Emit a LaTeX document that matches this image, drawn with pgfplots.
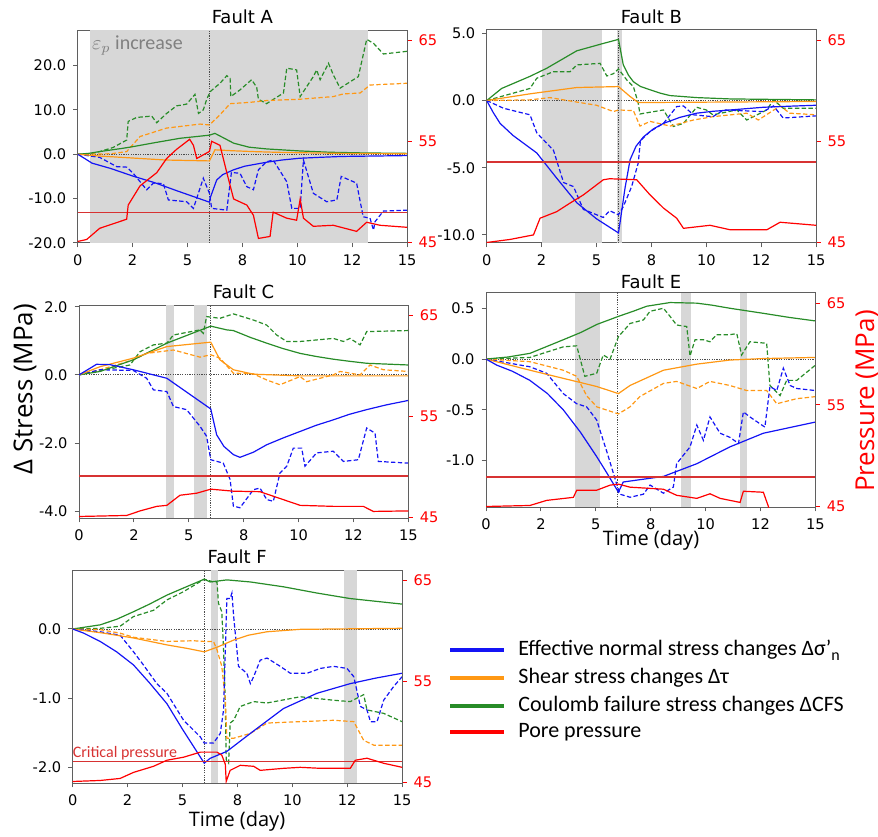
\documentclass[border=0pt]{standalone}
\usepackage{fontspec}
\setmainfont{DejaVu Sans}
\newfontfamily\carlito{Carlito}
\newfontfamily\opensans{Open Sans}
\usepackage{pgfplots}
\pgfplotsset{compat=1.18}

\definecolor{cblue}{RGB}{20,20,245}
\definecolor{corange}{RGB}{255,152,20}
\definecolor{cgreen}{RGB}{40,140,40}
\definecolor{cred}{RGB}{255,0,0}
\definecolor{crit}{RGB}{215,50,50}
\definecolor{spancol}{RGB}{215,215,215}
\definecolor{spine}{RGB}{95,95,95}

\pgfplotsset{
  panel/.style={scale only axis, width=164.7pt, height=106.5pt, anchor=south west, xmin=0, xmax=15},
  leftax/.style={panel,
    xtick={0,2.5,5,7.5,10,12.5,15}, xticklabels={0,2,5,8,10,12,15},
    tick align=outside, tick pos=left, major tick length=2.2pt,
    axis line style={spine, line width=0.5pt},
    tick style={spine, line width=0.5pt},
    tick label style={font=\fontsize{7.3}{8}\selectfont}},
  rightax/.style={panel, ymin=44.95, ymax=66,
    axis x line=none, axis y line*=right, ytick={45,55,65}, yticklabels={45,55,65},
    tick align=outside, major tick length=2.2pt,
    axis line style={spine, line width=0.5pt},
    tick style={cred, line width=0.5pt},
    yticklabel style={text=cred, font=\fontsize{7.3}{8}\selectfont}},
  dsh/.style={dash pattern=on 2.2pt off 1.2pt},
  sn/.style={cblue, line width=0.6pt},
  st/.style={corange, line width=0.6pt},
  sc/.style={cgreen, line width=0.6pt},
  pp/.style={cred, line width=0.6pt},
  cp/.style={draw=crit, line width=0.6pt},
}
\newcommand{\vspan}[2]{\fill[spancol] ({axis cs:#1,0}|-{rel axis cs:0,0}) rectangle ({axis cs:#2,0}|-{rel axis cs:0,1});}
\newcommand{\guides}{%
  \draw[black!70, line width=0.4pt, dash pattern=on 0.6pt off 0.6pt] (axis cs:0,0) -- (axis cs:15,0);
  \draw[black!70, line width=0.4pt, dash pattern=on 0.6pt off 0.6pt] ({axis cs:6,0}|-{rel axis cs:0,0}) -- ({axis cs:6,0}|-{rel axis cs:0,1});}

\begin{document}
\begin{tikzpicture}
\useasboundingbox (0,0) rectangle (439pt,418pt);

% ---------------- Fault A ----------------
\begin{axis}[leftax, at={(38.85pt,296.5pt)}, ymin=-20, ymax=28,
  ytick={-20,-10,0,10,20}, yticklabels={-20.0,-10.0,0.0,10.0,20.0}]
\vspan{0.56}{13.21}
\guides
\addplot[sc,dsh] coordinates {(0,0)(0.5,0)(1.0,0.6)(1.6,1.5)(2.23,3.2)(2.3,7.4)(2.69,8.3)(3.37,8.6)(3.6,7.1)(4.05,9.2)(4.5,10.9)(4.96,11.3)(5.34,13.5)(5.5,9.2)(5.72,10.0)(5.87,12.3)(6.03,14.1)(6.48,16.0)(6.79,17.7)(6.94,17.1)(6.97,13.0)(7.39,14.5)(7.92,16.8)(8.15,15.1)(8.23,12.4)(8.6,11.4)(9.37,13.8)(9.52,19.4)(9.97,19.0)(10.13,13.0)(10.73,17.5)(10.88,19.0)(11.04,16.8)(11.42,20.5)(11.64,17.9)(11.95,14.9)(12.78,17.5)(13.16,25.9)(13.47,25.0)(13.92,22.6)(15,23.2)};
\addplot[st,dsh] coordinates {(0,0)(1.5,0.1)(2.23,0.6)(2.84,4.0)(4.05,5.9)(5.57,6.8)(6.0,6.6)(6.48,8.9)(6.94,11.4)(7.85,11.7)(8.6,12.1)(10.13,12.4)(11.64,13.0)(12.1,13.6)(12.86,13.8)(13.31,15.6)(15,16.0)};
\addplot[sn,dsh] coordinates {(0,0)(1.0,-0.7)(1.78,-2.8)(2.23,-2.9)(2.53,-4.3)(3.14,-8.0)(3.45,-6.5)(3.9,-6.6)(4.13,-10.3)(4.96,-10.7)(5.27,-12.2)(5.72,-5.4)(6.0,-8.8)(6.1,-12.2)(6.79,-12.6)(7.0,-4.1)(7.39,-4.3)(7.7,-7.3)(8.0,-8.0)(8.23,-3.5)(8.6,-1.7)(8.9,-1.3)(9.52,-6.2)(9.75,-12.2)(10.13,-12.2)(10.28,-1.3)(10.73,-8.8)(11.34,-10.7)(11.8,-10.3)(12.0,-5.0)(12.7,-6.5)(13.0,-14.1)(13.31,-14.4)(13.47,-17.1)(13.54,-15.2)(13.92,-12.8)(15,-12.6)};
\addplot[sc] coordinates {(0,0)(0.5,0.2)(1,0.6)(2,1.3)(2.5,1.7)(3.5,2.6)(4.66,3.6)(6,4.3)(6.25,4.7)(6.6,3.8)(7.1,2.5)(7.8,1.6)(8.6,1.2)(10.1,0.75)(11.5,0.45)(13,0.3)(15,0.2)};
\addplot[st] coordinates {(0,0)(1,-0.4)(2,-0.7)(3,-1.0)(4,-1.3)(5,-1.4)(6,-1.5)(6.25,1.0)(7,0.8)(8,0.6)(9,0.45)(10,0.35)(12,0.2)(15,0.1)};
\addplot[sn] coordinates {(0,0)(0.3,-0.9)(0.65,-2.0)(1.5,-3.2)(2.5,-4.9)(3.5,-6.4)(4.5,-8.2)(6,-10.8)(6.05,-9.6)(6.33,-5.8)(6.6,-4.6)(7.1,-3.5)(7.6,-2.7)(8.6,-1.8)(9.3,-1.3)(10.1,-0.9)(11,-0.7)(12,-0.5)(13.5,-0.4)(15,-0.3)};
\end{axis}
\begin{axis}[rightax, at={(38.85pt,296.5pt)}]
\addplot[cp] coordinates {(0,48.0)(15,48.0)};
\addplot[pp] coordinates {(0,45.1)(0.41,45.3)(1.0,46.4)(2.23,47.3)(2.3,48.7)(2.84,50.6)(3.6,51.9)(4.05,53.3)(4.5,54.2)(5.1,55.2)(5.27,54.6)(5.42,53.3)(6.0,54.0)(6.1,55.0)(6.48,54.6)(6.79,51.9)(7.1,49.3)(7.7,48.7)(8.0,47.7)(8.23,45.4)(8.76,45.6)(8.9,48.0)(9.52,47.4)(9.97,47.2)(10.13,49.3)(10.28,47.4)(10.73,46.6)(11.64,46.7)(12.7,46.1)(13.16,47.0)(13.77,46.7)(15,46.5)};
\end{axis}

% ---------------- Fault B ----------------
\begin{axis}[leftax, at={(243.35pt,296.5pt)}, ymin=-10.6, ymax=5.25,
  ytick={-10,-5,0,5}, yticklabels={-10.0,-5.0,0.0,5.0}]
\vspan{2.53}{5.24}
\vspan{5.95}{6.17}
\guides
\addplot[sc,dsh] coordinates {(0,0)(1.97,0.9)(2.28,1.66)(3.04,2.15)(3.8,2.15)(4.1,2.65)(5.16,2.77)(5.47,1.83)(5.77,2.0)(6.0,2.35)(6.38,1.53)(6.68,1.04)(6.9,-0.2)(6.98,-1.0)(8.05,-0.7)(8.27,-1.3)(8.5,-1.93)(8.96,-1.7)(9.56,-0.5)(10.0,-0.7)(10.3,-1.06)(11.39,-0.7)(11.84,-1.45)(12.75,-0.7)(13.06,0.05)(13.5,-0.57)(15,-0.57)};
\addplot[st,dsh] coordinates {(0,0)(1.97,0.05)(2.88,0.22)(3.5,0.05)(5.0,-0.35)(5.77,-0.82)(6.0,-0.7)(6.68,-0.75)(6.98,-1.9)(7.44,-1.55)(8.35,-1.9)(9.41,-1.45)(10.3,-1.2)(11.84,-0.94)(12.37,-1.45)(13.36,-0.4)(13.8,-0.94)(15,-1.06)};
\addplot[sn,dsh] coordinates {(0,0)(0.76,-0.57)(1.97,-1.06)(2.28,-2.4)(3.04,-3.7)(3.5,-6.1)(3.95,-6.4)(4.4,-8.1)(5.31,-8.7)(5.6,-8.2)(6.0,-8.5)(6.22,-7.9)(6.6,-6.4)(6.9,-4.65)(7.0,-3.0)(7.44,-2.3)(8.05,-1.7)(8.65,-0.45)(8.96,-0.4)(9.41,-1.06)(10.3,-1.2)(10.78,-0.7)(12.6,-0.82)(13.06,-0.4)(13.5,-1.3)(15,-1.14)};
\addplot[sc] coordinates {(0,0)(0.68,0.9)(1.97,1.8)(2.73,2.4)(4.1,3.7)(5.31,4.25)(6.0,4.55)(6.22,2.65)(6.45,1.9)(6.68,1.4)(7,1.05)(7.44,0.8)(7.9,0.55)(8.35,0.37)(9.56,0.22)(11.1,0.12)(15,0.05)};
\addplot[st] coordinates {(0,0)(1.97,0.5)(4.1,0.97)(6.0,1.04)(6.53,0.3)(6.9,-0.15)(15,-0.07)};
\addplot[sn] coordinates {(0,0)(0.3,-0.9)(0.61,-1.7)(1.2,-2.6)(2.28,-3.9)(3.2,-5.8)(4.1,-7.6)(5,-8.8)(6.0,-9.85)(6.07,-9.1)(6.3,-6.5)(6.53,-4.4)(6.8,-3.4)(7.14,-2.7)(7.6,-2.1)(8.05,-1.7)(8.8,-1.25)(9.56,-0.94)(10.3,-0.8)(11.1,-0.7)(12.6,-0.5)(13.8,-0.42)(15,-0.35)};
\end{axis}
\begin{axis}[rightax, at={(243.35pt,296.5pt)}]
\addplot[cp] coordinates {(0,52.95)(15,52.95)};
\addplot[pp] coordinates {(0,45.0)(1.06,45.3)(2.13,45.75)(2.43,47.4)(3.19,48.05)(3.8,48.9)(4.4,49.7)(5.31,51.2)(5.6,51.3)(6.83,51.2)(7.44,49.7)(8.05,48.4)(8.65,47.4)(8.96,46.4)(10.17,46.7)(11.1,46.25)(12.75,46.25)(13.36,47.0)(15,46.7)};
\end{axis}

% ---------------- Fault C ----------------
\begin{axis}[leftax, at={(39.5pt,159pt)}, ymin=-4.2, ymax=2.05,
  ytick={-4,-2,0,2}, yticklabels={-4.0,-2.0,0.0,2.0}]
\vspan{3.96}{4.33}
\vspan{5.24}{5.82}
\guides
\addplot[sc,dsh] coordinates {(0,0)(0.96,0.12)(2.32,0.29)(2.78,0.68)(3.39,0.88)(4.0,0.93)(4.3,1.17)(5.51,1.32)(5.66,1.22)(5.81,1.71)(6.42,1.66)(7.03,1.79)(7.94,1.61)(8.55,1.46)(9.0,1.17)(9.46,0.98)(10.07,0.98)(11.58,1.07)(12.04,0.98)(12.34,1.07)(12.8,0.88)(13.1,1.27)(15,1.3)};
\addplot[st,dsh] coordinates {(0,0)(0.96,0.15)(2.47,0.44)(3.08,0.63)(4.3,0.73)(5.51,0.52)(6.0,0.59)(6.42,0.49)(7.03,0.05)(7.94,0.03)(8.55,-0.15)(9.15,-0.29)(10.07,-0.05)(10.37,-0.2)(11.58,0)(11.89,0.1)(12.8,0)(13.25,0.29)(13.86,0.15)(15,0.1)};
\addplot[sn,dsh] coordinates {(0,0)(0.96,0.15)(2.47,0.13)(3.08,-0.1)(3.39,-0.44)(4.0,-0.49)(4.3,-0.93)(4.9,-1.02)(5.51,-1.51)(5.81,-1.8)(6.0,-2.49)(6.57,-2.59)(6.88,-3.07)(7.03,-3.85)(7.33,-3.9)(7.94,-3.37)(8.24,-3.32)(8.55,-3.66)(8.85,-3.71)(9.15,-2.88)(9.46,-2.68)(9.76,-2.15)(10.14,-2.15)(10.29,-2.68)(10.82,-2.29)(11.58,-2.24)(12.04,-2.54)(12.72,-2.49)(13.1,-1.56)(13.48,-1.71)(13.63,-2.54)(15,-2.59)};
\addplot[sc] coordinates {(0,0)(0.96,0.1)(2.47,0.44)(4.0,0.93)(6.0,1.43)(6.73,1.32)(7.03,1.3)(7.8,1.1)(8.55,0.93)(9.3,0.77)(10.07,0.63)(10.8,0.54)(11.58,0.46)(12.3,0.4)(13.1,0.34)(15,0.29)};
\addplot[st] coordinates {(0,0)(0.96,0.24)(2.47,0.49)(4.0,0.83)(6.0,0.96)(6.42,0.44)(7.03,0.15)(7.94,0.02)(10.07,-0.03)(15,-0.03)};
\addplot[sn] coordinates {(0,0)(0.8,0.31)(1.41,0.3)(2.47,0.15)(4.0,-0.1)(6.0,-1.0)(6.27,-1.76)(6.6,-2.1)(7.03,-2.34)(7.33,-2.42)(7.94,-2.27)(8.55,-2.05)(9.3,-1.85)(10.07,-1.66)(10.8,-1.48)(11.58,-1.32)(12.3,-1.16)(13.1,-1.02)(14,-0.88)(15,-0.75)};
\end{axis}
\begin{axis}[rightax, at={(39.5pt,159pt)}]
\addplot[cp] coordinates {(0,49.1)(15,49.1)};
\addplot[pp] coordinates {(0,45.1)(2.17,45.2)(2.78,45.65)(3.54,46.1)(4.0,46.2)(4.6,47.2)(5.36,47.4)(6.0,47.8)(7.03,47.6)(8.24,47.55)(8.85,47.1)(10.07,46.2)(11.58,46.1)(12.95,46.1)(13.4,45.6)(15,45.65)};
\end{axis}

% ---------------- Fault E ----------------
\begin{axis}[leftax, at={(243pt,164.5pt)}, height=107pt, ymin=-1.456, ymax=0.65,
  ytick={-1,-0.5,0,0.5}, yticklabels={-1.0,-0.5,0.0,0.5}]
\vspan{4.07}{5.19}
\vspan{8.88}{9.34}
\vspan{11.57}{11.9}
\guides
\addplot[sc,dsh] coordinates {(0,0)(2.0,0.016)(3.52,0.12)(4.13,0.13)(4.5,-0.17)(5.04,-0.14)(5.34,0.04)(5.65,0)(6.03,0.22)(6.56,0.35)(7.17,0.385)(7.47,0.47)(8.08,0.5)(8.38,0.42)(8.68,0.335)(9.14,0.32)(9.29,0.03)(9.52,0.19)(9.9,0.19)(10.2,0.17)(10.5,0.24)(11.1,0.24)(11.42,0.25)(11.64,0.04)(12.02,0.17)(12.78,0.155)(12.93,-0.26)(13.39,-0.36)(13.69,-0.21)(14.15,-0.21)(15,-0.06)};
\addplot[st,dsh] coordinates {(0,0)(2.0,-0.026)(3.52,-0.11)(4.13,-0.17)(4.58,-0.36)(5.04,-0.47)(6.03,-0.54)(6.56,-0.47)(7.0,-0.37)(8.08,-0.24)(8.68,-0.22)(9.6,-0.29)(10.2,-0.22)(11.1,-0.26)(11.87,-0.31)(12.78,-0.31)(13.24,-0.44)(14.15,-0.39)(15,-0.37)};
\addplot[sn,dsh] coordinates {(0,0)(2.0,-0.076)(2.76,-0.14)(3.52,-0.34)(4.13,-0.44)(4.58,-0.47)(5.04,-0.6)(5.5,-0.91)(5.95,-1.23)(6.1,-1.33)(6.56,-1.36)(7.17,-1.33)(7.47,-1.24)(8.08,-1.32)(8.53,-1.26)(8.68,-1.03)(9.29,-0.865)(9.6,-0.65)(9.9,-0.8)(10.2,-0.57)(10.66,-0.73)(11.1,-0.77)(11.5,-0.83)(11.72,-0.52)(12.02,-0.57)(12.7,-0.67)(12.93,-0.27)(13.24,-0.31)(13.54,-0.09)(13.85,-0.26)(14.15,-0.29)(15,-0.31)};
\addplot[sc] coordinates {(0,0)(1,0.02)(2.0,0.056)(3.52,0.19)(4.3,0.26)(5.04,0.34)(6.03,0.42)(6.7,0.47)(7.32,0.52)(8.38,0.556)(9.6,0.55)(10.3,0.53)(11.1,0.5)(12.63,0.45)(13.8,0.41)(15,0.375)};
\addplot[st] coordinates {(0,0)(2.0,-0.11)(3.52,-0.19)(5.04,-0.27)(6.03,-0.34)(6.56,-0.26)(8.08,-0.11)(9.6,-0.05)(11.1,-0.01)(12.63,0.005)(15,0.016)};
\addplot[sn] coordinates {(0,0)(0.49,-0.06)(1.2,-0.12)(2.0,-0.21)(2.8,-0.34)(3.52,-0.5)(4.3,-0.72)(5.04,-0.96)(5.5,-1.12)(6.03,-1.31)(6.25,-1.21)(8.08,-1.155)(9.6,-1.03)(11.1,-0.865)(12.63,-0.73)(15,-0.62)};
\end{axis}
\begin{axis}[rightax, at={(243pt,164.5pt)}, height=107pt]
\addplot[cp] coordinates {(0,47.9)(15,47.9)};
\addplot[pp] coordinates {(0,45.0)(2.0,45.1)(2.76,45.6)(3.98,45.9)(4.13,46.6)(5.04,46.6)(5.65,47.1)(6.03,47.2)(6.56,46.9)(8.08,46.7)(8.68,46.1)(9.6,45.8)(10.2,46.25)(10.66,45.8)(11.57,45.4)(11.72,46.5)(12.63,46.4)(12.86,45.0)(12.9,44.0)};
\end{axis}

% ---------------- Fault F ----------------
\begin{axis}[leftax, at={(36.35pt,26.5pt)}, ymin=-2.227, ymax=0.853,
  ytick={-2,-1,0}, yticklabels={-2.0,-1.0,0.0}]
\vspan{6.29}{6.62}
\vspan{12.36}{12.94}
\guides
\addplot[sc,dsh] coordinates {(0,0)(1.25,0.01)(2.16,0.04)(2.77,0.18)(3.68,0.27)(4.29,0.42)(5.05,0.54)(5.99,0.72)(6.41,0.68)(6.57,0.68)(6.64,0.37)(6.79,0.25)(6.87,-0.3)(6.95,-1.07)(6.99,-1.89)(7.1,-1.94)(7.17,-1.36)(7.33,-1.32)(7.63,-1.12)(8.24,-1.05)(8.85,-1.07)(10.36,-0.98)(11.88,-1.03)(12.64,-1.05)(13.25,-0.95)(13.4,-1.17)(14.16,-1.22)(15,-1.34)};
\addplot[st,dsh] coordinates {(0,0)(1.25,-0.01)(2.16,-0.06)(2.77,-0.12)(4.29,-0.18)(5.5,-0.17)(5.99,-0.18)(6.41,-0.18)(6.57,-0.3)(6.79,-0.54)(6.95,-1.02)(7.02,-1.58)(7.33,-1.58)(8.09,-1.51)(8.85,-1.36)(10.36,-1.34)(11.88,-1.32)(12.8,-1.34)(13.25,-1.61)(13.71,-1.68)(15,-1.68)};
\addplot[sn,dsh] coordinates {(0,0)(1.25,-0.04)(2.16,-0.09)(2.77,-0.33)(3.22,-0.52)(3.83,-0.79)(4.29,-0.93)(5.05,-1.32)(5.81,-1.56)(5.99,-1.65)(6.41,-1.65)(6.72,-1.51)(6.87,-1.17)(7.02,0.44)(7.17,0.44)(7.25,0.52)(7.33,0.18)(7.55,-0.54)(7.93,-0.64)(8.09,-0.79)(8.24,-0.69)(8.54,-0.45)(8.85,-0.42)(9.45,-0.54)(9.91,-0.64)(10.67,-0.64)(11.28,-0.57)(11.88,-0.54)(12.49,-0.57)(12.8,-0.69)(13.1,-1.12)(13.4,-1.17)(13.56,-1.34)(13.86,-1.34)(14.16,-1.03)(14.62,-0.83)(15,-0.69)};
\addplot[sc] coordinates {(0,0)(1.25,0.06)(2,0.14)(2.77,0.25)(3.5,0.36)(4.29,0.49)(5.1,0.6)(5.99,0.72)(6.26,0.68)(7.02,0.71)(8.09,0.68)(9.6,0.61)(11.12,0.52)(12.64,0.44)(15,0.36)};
\addplot[st] coordinates {(0,0)(1.4,-0.06)(2.77,-0.13)(4.29,-0.23)(5.2,-0.28)(5.99,-0.33)(6.6,-0.26)(7.33,-0.16)(8,-0.09)(8.85,-0.04)(10.36,-0.005)(15,0.01)};
\addplot[sn] coordinates {(0,0)(0.5,-0.06)(1.25,-0.18)(2,-0.33)(2.77,-0.52)(3.5,-0.78)(4.29,-1.08)(5,-1.45)(5.99,-1.94)(6.26,-1.87)(7.02,-1.77)(8.09,-1.51)(9.6,-1.15)(10.36,-1.04)(11.12,-0.93)(12.64,-0.79)(13.8,-0.71)(15,-0.64)};
\end{axis}
\begin{axis}[rightax, at={(36.35pt,26.5pt)}]
\addplot[cp] coordinates {(0,47.06)(15,47.06)};
\addplot[pp] coordinates {(0,45.1)(1.25,45.2)(2.16,45.4)(2.77,46.0)(3.68,46.6)(4.29,47.2)(5.05,47.5)(5.81,48.0)(6.57,48.0)(6.79,47.7)(6.95,46.8)(6.99,45.1)(7.17,46.2)(7.63,46.7)(8.24,46.6)(8.54,46.2)(9.6,46.4)(10.36,46.5)(11.28,46.4)(12.64,46.4)(12.87,47.2)(13.4,47.4)(14.16,46.9)(15,46.5)};
\end{axis}

% ---------------- text ----------------
\node[font=\fontsize{9}{10}\selectfont] at (121.2pt,409.5pt) {Fault A};
\node[font=\fontsize{9}{10}\selectfont] at (325.7pt,409.5pt) {Fault B};
\node[font=\fontsize{9}{10}\selectfont] at (121.75pt,272pt) {Fault C};
\node[font=\fontsize{9}{10}\selectfont] at (325.5pt,277pt) {Fault E};
\node[font=\fontsize{9}{10}\selectfont] at (118.6pt,139.5pt) {Fault F};
\node[anchor=west, inner sep=0pt, text=black!50, font=\carlito\fontsize{10}{11}\selectfont] at (45.85pt,395.5pt) {$\varepsilon_p$ increase};
\node[rotate=90, font=\opensans\fontsize{13}{14}\selectfont] at (12.5pt,223.5pt) {Δ Stress (MPa)};
\node[rotate=90, text=cred, font=\opensans\fontsize{13}{14}\selectfont] at (433.5pt,217.5pt) {Pressure (MPa)};
\node[font=\opensans\fontsize{10}{11}\selectfont] at (325.5pt,148pt) {Time (day)};
\node[font=\opensans\fontsize{10}{11}\selectfont] at (118.5pt,7.5pt) {Time (day)};
\node[anchor=west, inner sep=0pt, text=crit, font=\carlito\fontsize{8}{9}\selectfont] at (36.2pt,41.6pt) {Critical pressure};

% legend
\begin{scope}[font=\carlito\fontsize{11}{12}\selectfont]
\draw[cblue, line width=1.6pt] (225pt,93pt) -- (252pt,93pt);
\node[anchor=west, inner sep=0pt] at (259pt,93pt) {Effective normal stress changes Δσ’\raisebox{-0.45ex}{\fontsize{8}{8}\selectfont n}};
\draw[corange, line width=1.6pt] (225pt,79pt) -- (252pt,79pt);
\node[anchor=west, inner sep=0pt] at (259pt,79pt) {Shear stress changes Δτ};
\draw[cgreen, line width=1.6pt] (225pt,65pt) -- (252pt,65pt);
\node[anchor=west, inner sep=0pt] at (259pt,65pt) {Coulomb failure stress changes ΔCFS};
\draw[cred, line width=1.6pt] (225pt,52pt) -- (252pt,52pt);
\node[anchor=west, inner sep=0pt] at (259pt,52pt) {Pore pressure};
\end{scope}
\end{tikzpicture}
\end{document}
